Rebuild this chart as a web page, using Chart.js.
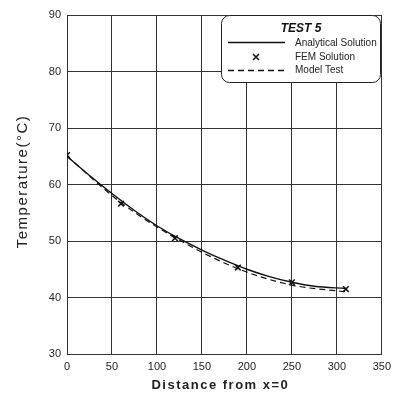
<!DOCTYPE html>
<html>
<head>
<meta charset="utf-8">
<script src="https://cdn.jsdelivr.net/npm/chart.js@4"></script>
<style>
  html, body { margin: 0; padding: 0; background: #fff; }
  #wrap { width: 397px; height: 396px; }
</style>
</head>
<body>
<div id="wrap"><canvas id="chart" width="397" height="396"></canvas></div>
<script>
// analytical solution curve
const analyticalX = [0, 25, 50, 75, 100, 125, 150, 175, 200, 225, 250, 275, 310];
const analyticalY = [65, 61.6, 58.4, 55.4, 52.7, 50.4, 48.4, 46.6, 45.0, 43.7, 42.7, 42.0, 41.6];
// FEM solution points
const femX = [0, 60, 120, 190, 250, 310];
const femY = [65.2, 56.6, 50.5, 45.3, 42.7, 41.5];
// model test (dashed)
const modelX = [0, 60, 120, 190, 250, 310];
const modelY = [65, 56.8, 50.6, 45.1, 42.2, 41.0];

const xTicks = [0, 50, 100, 150, 200, 250, 300, 350];
const yTicks = [30, 40, 50, 60, 70, 80, 90];

const xTitle = 'Distance from x=0';
const yTitle = 'Temperature(°C)';

const toPts = (xs, ys) => xs.map((x, i) => ({ x: x, y: ys[i] }));

const FONT = '"Liberation Sans", Arial, sans-serif';

// axis titles (spaced out like the scan) and the boxed legend
const extras = {
    id: 'extras',
    afterDraw(chart) {
        const ctx = chart.ctx;
        const area = chart.chartArea;
        ctx.save();

        ctx.fillStyle = '#222';
        ctx.textAlign = 'center';
        ctx.textBaseline = 'middle';
        ctx.letterSpacing = '1.5px';
        ctx.font = 'bold 13px ' + FONT;
        ctx.fillText(xTitle, (area.left + area.right) / 2 - 4, 385);

        ctx.letterSpacing = '1.5px';
        ctx.font = '15px ' + FONT;
        ctx.translate(23, (area.top + area.bottom) / 2 - 3);
        ctx.rotate(-Math.PI / 2);
        ctx.fillText(yTitle, 0, 0);
        ctx.setTransform(1, 0, 0, 1, 0, 0);
        ctx.letterSpacing = '0px';

        // legend box
        const x0 = 221, y0 = 15, w = 159, h = 67, r = 8;
        ctx.fillStyle = '#fff';
        ctx.strokeStyle = '#222';
        ctx.lineWidth = 1;
        ctx.beginPath();
        ctx.roundRect(x0 + 0.5, y0 + 0.5, w, h, r);
        ctx.fill();
        ctx.stroke();

        ctx.fillStyle = '#111';
        ctx.font = 'italic bold 12px ' + FONT;
        ctx.fillText('TEST 5', 301, 29);

        ctx.font = '10px ' + FONT;
        ctx.textAlign = 'left';
        ctx.fillStyle = '#222';
        ctx.fillText(chart.data.datasets[0].label, 295, 43);
        ctx.fillText(chart.data.datasets[1].label, 295, 57);
        ctx.fillText(chart.data.datasets[2].label, 295, 70);

        ctx.lineWidth = 1.3;
        ctx.strokeStyle = '#111';
        ctx.beginPath();
        ctx.moveTo(228, 42.5);
        ctx.lineTo(285, 42.5);
        ctx.stroke();

        ctx.setLineDash([6, 4]);
        ctx.beginPath();
        ctx.moveTo(228, 70.5);
        ctx.lineTo(285, 70.5);
        ctx.stroke();
        ctx.setLineDash([]);

        ctx.lineWidth = 1.5;
        const cx = 256, cy = 57, s = 3;
        ctx.beginPath();
        ctx.moveTo(cx - s, cy - s); ctx.lineTo(cx + s, cy + s);
        ctx.moveTo(cx + s, cy - s); ctx.lineTo(cx - s, cy + s);
        ctx.stroke();
        ctx.restore();
    }
};

new Chart(document.getElementById('chart').getContext('2d'), {
    type: 'scatter',
    data: {
        datasets: [
            {
                label: 'Analytical Solution',
                data: toPts(analyticalX, analyticalY),
                showLine: true,
                borderColor: '#111',
                borderWidth: 1.4,
                pointRadius: 0,
                cubicInterpolationMode: 'monotone',
                fill: false
            },
            {
                label: 'FEM Solution',
                data: toPts(femX, femY),
                showLine: false,
                pointStyle: 'crossRot',
                pointRadius: 4,
                borderColor: '#111',
                pointBorderWidth: 1.5
            },
            {
                label: 'Model Test',
                data: toPts(modelX, modelY),
                showLine: true,
                borderColor: '#111',
                borderWidth: 1.2,
                borderDash: [6, 4],
                pointRadius: 0,
                cubicInterpolationMode: 'monotone',
                fill: false
            }
        ]
    },
    options: {
        responsive: false,
        animation: false,
        layout: { padding: { top: 15, right: 14, left: 0, bottom: 0 } },
        plugins: {
            legend: { display: false },
            tooltip: { enabled: false }
        },
        scales: {
            x: {
                type: 'linear',
                min: 0,
                max: 350,
                afterBuildTicks: (scale) => { scale.ticks = xTicks.map(v => ({ value: v })); },
                afterFit: (scale) => { scale.height = 42; },
                grid: { color: '#333', lineWidth: 1, drawTicks: false },
                border: { color: '#333', width: 1 },
                ticks: {
                    color: '#222',
                    padding: 6,
                    font: { family: FONT, size: 11 }
                }
            },
            y: {
                min: 30,
                max: 90,
                afterBuildTicks: (scale) => { scale.ticks = yTicks.map(v => ({ value: v })); },
                afterFit: (scale) => { scale.width = 67; },
                grid: { color: '#333', lineWidth: 1, drawTicks: false },
                border: { color: '#333', width: 1 },
                ticks: {
                    color: '#222',
                    padding: 6,
                    font: { family: FONT, size: 11 }
                }
            }
        }
    },
    plugins: [extras]
});
</script>
</body>
</html>
